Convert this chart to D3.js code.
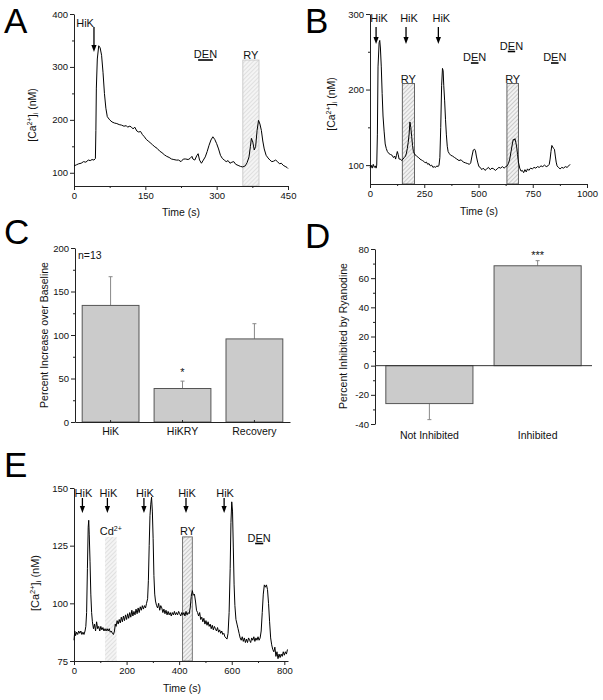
<!DOCTYPE html>
<html><head><meta charset="utf-8">
<script src="https://cdn.jsdelivr.net/npm/d3@7"></script>
<style>body{margin:0;background:#fff}</style>
</head><body><svg id="fig" width="603" height="700"></svg>
<script>
// ================= DATA =================
// Panel A trace
const traceA_t  = [0,5,10,15,20,25,30,34,38,42,45,46,47,49,52,55,58,61,64,67,70,75,80,85,90,95,100,105,110,113,116,120,124,128,132,136,140,144,148,152,156,160,165,170,175,180,185,190,195,200,205,210,215,220,225,230,235,240,244,248,250,254,258,261,264,268,272,276,280,284,288,292,296,300,304,308,312,316,320,324,328,332,336,340,345,350,355,360,364,368,371,373,376,379,382,385,388,391,394,397,400,404,408,412,416,420,424,428,432,436,440,444,448,450];
const traceA_ca = [113,115,117,118,121,120,124,123,125,124,127,180,260,315,340,336,322,290,250,222,206,200,196,194,193,191,190,188,189,186,188,187,183,186,179,177,178,172,168,163,160,157,153,149,146,141,138,134,131,129,126,125,124,124,121,126,126,125,127,131,126,124,132,136,124,118,124,130,140,152,162,168,163,155,145,133,127,124,121,123,118,120,121,116,114,112,111,113,119,130,150,165,158,143,150,180,199,192,180,160,145,133,128,124,121,122,124,121,117,118,114,112,110,108];
const hikA = [42];
const denA = [[261, 292]];
const ryA  = [[355, 389]];

// Panel B trace
const traceB_t  = [0,5,10,15,20,25,28,31,34,37,42,45,48,52,56,60,65,70,75,80,88,95,102,108,114,118,122,126,130,134,140,146,152,158,164,168,172,176,180,184,188,192,196,200,206,212,218,224,230,236,242,248,254,260,266,272,278,284,290,296,302,308,314,318,322,326,330,334,337,340,344,348,352,356,360,366,372,380,390,400,410,420,430,440,450,458,464,470,476,482,486,490,496,502,508,515,522,530,538,546,554,562,570,578,586,594,602,610,618,626,632,638,644,650,656,660,664,668,672,676,680,684,690,696,702,708,714,720,726,732,740,748,756,764,772,780,788,796,804,812,820,826,830,834,838,842,846,850,854,858,862,868,876,884,892,900,908,916,922];
const traceB_ca = [97,100,96,101,97,99,96,100,140,230,262,265,255,230,195,165,145,128,122,118,115,114,113,110,112,108,113,118,114,108,108,106,108,110,112,116,122,130,140,157,150,138,126,118,114,113,111,110,108,107,106,105,103,104,101,102,99,100,97,98,97,99,98,100,110,150,205,228,225,205,185,160,140,125,118,115,113,112,110,108,106,107,104,103,102,101,103,112,120,121,119,112,104,98,97,94,96,93,95,97,94,96,95,93,95,97,96,98,96,98,99,102,108,118,128,134,133,135,130,124,114,104,96,92,93,90,94,91,95,93,96,95,97,96,98,97,99,98,100,98,99,101,108,118,126,124,122,121,112,104,99,97,95,97,96,98,97,99,101];
const hikB = [28, 166, 315];
const denB = [[465, 500], [635, 669], [834, 869]];
const ryB  = [[149, 205], [631, 684]];

// Panel C bars
const barsC_cat  = ["HiK", "HiKRY", "Recovery"];
const barsC_mean = [134, 38.5, 95.5];
const barsC_sem  = [33, 8.5, 17.5];
const barsC_sig  = ["", "*", ""];

// Panel D bars
const barsD_cat  = ["Not Inhibited", "Inhibited"];
const barsD_mean = [-26, 68.5];
const barsD_sem  = [11, 3.5];
const barsD_sig  = ["", "***"];

// Panel E trace
const traceE_t  = [0,3,6,10,14,18,22,26,30,34,38,42,45,48,51,54,56,58,61,64,67,70,74,78,82,86,90,94,98,102,106,110,114,118,122,126,130,134,138,142,146,150,154,157,160,164,168,172,176,180,184,188,192,196,200,204,208,212,216,220,224,228,232,236,240,244,248,252,256,260,264,268,272,276,280,283,286,289,292,295,298,301,304,307,310,314,318,322,326,330,334,338,342,346,350,354,358,362,366,370,374,378,382,386,390,394,398,402,406,410,414,418,422,426,430,434,438,442,446,450,454,458,462,466,470,474,478,482,486,490,494,498,502,506,510,514,518,522,526,530,534,538,542,546,550,554,558,562,566,570,574,578,582,586,590,594,597,600,603,606,609,612,616,620,624,628,632,636,640,644,648,652,656,660,664,668,672,676,680,684,688,692,696,700,704,708,712,716,720,724,728,732,736,740,744,748,752,756,760,764,768,772,776,780,784,788,792,796,800,804,808,812];
const traceE_ca = [84,88,86,87.5,86.5,88,87,88,86.5,87.5,86.5,88,90,96,115,133,136,130,118,104,96,92,89,91,88,92,89,90,88,90,88.5,89.5,88,89,88,89,88,89,87.5,88,87,86.5,88,91,90,92.5,91,93,91.5,94,92,94.5,92.5,95,93,95.5,93.5,96,94,97,94.5,96.5,95,97.5,95.5,98,96,98.5,97,99,97.5,99,98,100,102,110,125,138,143,146,140,128,112,104,101,99,98,100,97,99,98,96,97.5,95.5,97,95,96.5,95,96,94.5,96,95,96.5,95,96,95,96.5,95.5,94.5,96,95,96,94.5,96.5,95,96,95.5,98,103,105.5,103.5,104,101,97,96,94.5,96,93,94,92,93.5,91,92.5,90.5,92,90,91,89,90.5,88.5,90,89,88,89.5,87.5,88.5,87,88,86.5,87,85.5,85,84.5,87,96,115,135,144,140,124,108,99,93,91,89,87,85,84,85.5,83.5,85,83,84.5,83,85,84,83,85,84,85.5,83.5,85,84,85.5,84,85,88,96,104,108,107,108,106,100,92,85,82,80,79,81,77,79,76,78,76.5,78,77,79,77.5,79,78,80];
const hikE = [32, 127, 266, 426, 571];
const denE = [[689, 720]];
const cdE  = [[118, 162]];
const ryE  = [[413, 450]];

// ================= DRAWING =================
const FONT = "'Liberation Sans', Arial, Helvetica, sans-serif";
const fmt = d => String(d);
const svg = d3.select("#fig").style("font-family", FONT);
svg.append("rect").attr("width", 603).attr("height", 700).attr("fill", "#fff");

const defs = svg.append("defs");
function hatch(id, bg, line, w) {
  const p = defs.append("pattern").attr("id", id).attr("patternUnits", "userSpaceOnUse")
    .attr("width", 3).attr("height", 3).attr("patternTransform", "rotate(45)");
  p.append("rect").attr("width", 3).attr("height", 3).attr("fill", bg);
  p.append("line").attr("x1", 0).attr("y1", 0).attr("x2", 0).attr("y2", 3)
    .attr("stroke", line).attr("stroke-width", w);
}
hatch("hatchLight", "#f4f4f4", "#c4c4c4", 0.8);
hatch("hatchDark", "#f2f2f2", "#9a9a9a", 0.9);

function styleAxis(g) {
  g.attr("font-family", FONT).attr("font-size", 9.5);
  g.selectAll("path,line").attr("stroke", "#222").attr("stroke-width", 1);
  g.selectAll("text").attr("fill", "#111");
}

function addAxes(x, y, xMajor, xMinor, yMajor, yMinor, yAt, xAt) {
  const ax = svg.append("g").attr("transform", `translate(0,${yAt})`)
    .call(d3.axisBottom(x).tickValues(xMajor).tickFormat(fmt).tickSize(4).tickSizeOuter(0).tickPadding(2));
  styleAxis(ax);
  if (xMinor.length) {
    const axm = svg.append("g").attr("transform", `translate(0,${yAt})`)
      .call(d3.axisBottom(x).tickValues(xMinor).tickSize(2).tickFormat(""));
    axm.select(".domain").remove(); styleAxis(axm);
  }
  const ay = svg.append("g").attr("transform", `translate(${xAt},0)`)
    .call(d3.axisLeft(y).tickValues(yMajor).tickFormat(fmt).tickSize(4).tickSizeOuter(0).tickPadding(2));
  styleAxis(ay);
  if (yMinor.length) {
    const aym = svg.append("g").attr("transform", `translate(${xAt},0)`)
      .call(d3.axisLeft(y).tickValues(yMinor).tickSize(2).tickFormat(""));
    aym.select(".domain").remove(); styleAxis(aym);
  }
}

function panelLetter(t, x, y) {
  svg.append("text").attr("x", x).attr("y", y).attr("font-size", 35).attr("fill", "#000").text(t);
}

function caLabel(cx, cy, size) {
  const t = svg.append("text").attr("transform", `translate(${cx},${cy}) rotate(-90)`)
    .attr("text-anchor", "middle").attr("font-size", size).attr("fill", "#111");
  t.append("tspan").text("[Ca");
  t.append("tspan").attr("dy", -4).attr("font-size", size * 0.68).text("2+");
  t.append("tspan").attr("dy", 4).text("]");
  t.append("tspan").attr("dy", 2).attr("font-size", size * 0.68).text("i");
  t.append("tspan").attr("dy", -2).text(" (nM)");
}

function xTitle(text, cx, y) {
  svg.append("text").attr("x", cx).attr("y", y).attr("text-anchor", "middle")
    .attr("font-size", 10.5).attr("fill", "#111").text(text);
}

function arrow(x, y1, y2) {
  svg.append("line").attr("x1", x).attr("x2", x).attr("y1", y1).attr("y2", y2 - 5)
    .attr("stroke", "#000").attr("stroke-width", 1.3);
  svg.append("path").attr("d", `M${x - 2.6},${y2 - 7} L${x + 2.6},${y2 - 7} L${x},${y2} Z`).attr("fill", "#000");
}

function annText(t, x, y, anchor) {
  return svg.append("text").attr("x", x).attr("y", y).attr("text-anchor", anchor || "middle")
    .attr("font-size", 11).attr("fill", "#111").text(t);
}

function denLabel(x, t0, t1, barY) {
  const cx = (x(t0) + x(t1)) / 2;
  annText("DEN", cx, barY - 2);
  svg.append("line").attr("x1", x(t0)).attr("x2", x(t1)).attr("y1", barY).attr("y2", barY)
    .attr("stroke", "#000").attr("stroke-width", 1.6);
}

function box(x, y, t0, t1, top, fill, stroke) {
  svg.append("rect").attr("x", x(t0)).attr("y", y(top)).attr("width", x(t1) - x(t0))
    .attr("height", y.range()[0] - y(top)).attr("fill", fill)
    .attr("stroke", stroke).attr("stroke-width", stroke === "none" ? 0 : 0.9);
}

function trace(x, y, ts, vs) {
  const pts = ts.map((t, i) => [t, vs[i]]);
  svg.append("path").datum(pts)
    .attr("d", d3.line().x(d => x(d[0])).y(d => y(d[1])))
    .attr("fill", "none").attr("stroke", "#000").attr("stroke-width", 1);
}

// ---------- Panel A ----------
{
  const x = d3.scaleLinear().domain([0, 450]).range([74, 288]);
  const y = d3.scaleLinear().domain([75, 400]).range([186, 14]);
  ryA.forEach(r => box(x, y, r[0], r[1], 313, "url(#hatchLight)", "#c8c8c8"));
  addAxes(x, y, [0, 150, 300, 450], [75, 225, 375], [100, 200, 300, 400], [150, 250, 350], 186, 74);
  trace(x, y, traceA_t, traceA_ca);
  hikA.forEach(t => { annText("HiK", x(t), 27, "end"); arrow(x(t), 27, 52); });
  denA.forEach(d => denLabel(x, d[0], d[1], 60));
  ryA.forEach(r => annText("RY", (x(r[0]) + x(r[1])) / 2, y(313) - 1.5));
  panelLetter("A", 4, 33);
  caLabel(36, 115, 10.5);
  xTitle("Time (s)", 181, 216);
}

// ---------- Panel B ----------
{
  const x = d3.scaleLinear().domain([0, 1000]).range([370, 587]);
  const y = d3.scaleLinear().domain([75, 300]).range([184, 14]);
  ryB.forEach(r => box(x, y, r[0], r[1], 208, "url(#hatchDark)", "#555"));
  addAxes(x, y, [0, 250, 500, 750, 1000], [125, 375, 625, 875], [100, 200, 300], [150, 250], 184, 370);
  trace(x, y, traceB_t, traceB_ca);
  hikB.forEach(t => { annText("HiK", x(t) + 3, 22); arrow(x(t), 27, 44); });
  const denBarY = [63, 51.5, 63];
  denB.forEach((d, i) => denLabel(x, d[0], d[1], denBarY[i]));
  ryB.forEach(r => annText("RY", (x(r[0]) + x(r[1])) / 2, y(208) - 0.5));
  panelLetter("B", 305, 33);
  caLabel(335, 104, 10.5);
  xTitle("Time (s)", 479, 215);
}

// ---------- Panel C ----------
{
  const x = d3.scaleBand().domain(barsC_cat).range([75, 290]).paddingInner(0.21).paddingOuter(0.1);
  const y = d3.scaleLinear().domain([0, 200]).range([422, 248]);
  barsC_cat.forEach((c, i) => {
    const cx = x(c) + x.bandwidth() / 2, top = barsC_mean[i] + barsC_sem[i];
    svg.append("line").attr("x1", cx).attr("x2", cx).attr("y1", y(barsC_mean[i])).attr("y2", y(top))
      .attr("stroke", "#888").attr("stroke-width", 1);
    svg.append("line").attr("x1", cx - 2).attr("x2", cx + 2).attr("y1", y(top)).attr("y2", y(top))
      .attr("stroke", "#888").attr("stroke-width", 1);
    if (barsC_sig[i]) annText(barsC_sig[i], cx, y(top) - 5);
  });
  svg.selectAll(".barC").data(barsC_cat).join("rect")
    .attr("x", d => x(d)).attr("width", x.bandwidth())
    .attr("y", (d, i) => y(barsC_mean[i])).attr("height", (d, i) => y(0) - y(barsC_mean[i]))
    .attr("fill", "#cbcbcb").attr("stroke", "#555").attr("stroke-width", 1);
  const ay = svg.append("g").attr("transform", "translate(75,0)")
    .call(d3.axisLeft(y).tickValues([0, 50, 100, 150, 200]).tickFormat(fmt).tickSize(4).tickSizeOuter(0).tickPadding(2));
  styleAxis(ay);
  const aym = svg.append("g").attr("transform", "translate(75,0)")
    .call(d3.axisLeft(y).tickValues([25, 75, 125, 175]).tickSize(2).tickFormat(""));
  aym.select(".domain").remove(); styleAxis(aym);
  const ax = svg.append("g").attr("transform", `translate(0,${y(0)})`)
    .call(d3.axisBottom(x).tickSize(-2).tickSizeOuter(0).tickPadding(6));
  styleAxis(ax);
  ax.selectAll("text").attr("font-size", 10.5);
  annText("n=13", 78, 259, "start").attr("font-size", 10.5);
  panelLetter("C", 4, 244);
  svg.append("text").attr("transform", "translate(48,335) rotate(-90)").attr("text-anchor", "middle")
    .attr("font-size", 10.5).attr("fill", "#111").text("Percent Increase over Baseline");
}

// ---------- Panel D ----------
{
  const x = d3.scaleBand().domain(barsD_cat).range([375, 592]).paddingInner(0.195).paddingOuter(0.1);
  const y = d3.scaleLinear().domain([-40, 80]).range([424, 249]);
  barsD_cat.forEach((c, i) => {
    const cx = x(c) + x.bandwidth() / 2;
    const sign = barsD_mean[i] >= 0 ? 1 : -1;
    const end = barsD_mean[i] + sign * barsD_sem[i];
    svg.append("line").attr("x1", cx).attr("x2", cx).attr("y1", y(barsD_mean[i])).attr("y2", y(end))
      .attr("stroke", "#888").attr("stroke-width", 1);
    svg.append("line").attr("x1", cx - 2).attr("x2", cx + 2).attr("y1", y(end)).attr("y2", y(end))
      .attr("stroke", "#888").attr("stroke-width", 1);
    if (barsD_sig[i]) annText(barsD_sig[i], cx, y(end) - 2);
  });
  svg.selectAll(".barD").data(barsD_cat).join("rect")
    .attr("x", d => x(d)).attr("width", x.bandwidth())
    .attr("y", (d, i) => y(Math.max(0, barsD_mean[i])))
    .attr("height", (d, i) => Math.abs(y(0) - y(barsD_mean[i])))
    .attr("fill", "#cbcbcb").attr("stroke", "#555").attr("stroke-width", 1);
  const ay = svg.append("g").attr("transform", "translate(375,0)")
    .call(d3.axisLeft(y).tickValues([-40, -20, 0, 20, 40, 60, 80]).tickFormat(fmt).tickSize(4).tickSizeOuter(0).tickPadding(2));
  styleAxis(ay);
  const aym = svg.append("g").attr("transform", "translate(375,0)")
    .call(d3.axisLeft(y).tickValues([-30, -10, 10, 30, 50, 70]).tickSize(2).tickFormat(""));
  aym.select(".domain").remove(); styleAxis(aym);
  svg.append("line").attr("x1", 375).attr("x2", 592).attr("y1", y(0)).attr("y2", y(0))
    .attr("stroke", "#333").attr("stroke-width", 1);
  const axl = svg.append("g").attr("transform", `translate(0,${y(-40)})`)
    .call(d3.axisBottom(x).tickSize(0).tickPadding(8));
  axl.select(".domain").remove(); styleAxis(axl);
  axl.selectAll("text").attr("font-size", 10.5);
  panelLetter("D", 305, 248);
  svg.append("text").attr("transform", "translate(347,336) rotate(-90)").attr("text-anchor", "middle")
    .attr("font-size", 10.5).attr("fill", "#111").text("Percent Inhibited by Ryanodine");
}

// ---------- Panel E ----------
{
  const x = d3.scaleLinear().domain([0, 814]).range([74, 288]);
  const y = d3.scaleLinear().domain([75, 150]).range([661, 488]);
  cdE.forEach(r => box(x, y, r[0], r[1], 128.8, "url(#hatchLight)", "none"));
  ryE.forEach(r => box(x, y, r[0], r[1], 128.8, "url(#hatchDark)", "#666"));
  addAxes(x, y, [0, 200, 400, 600, 800], [100, 300, 500, 700], [75, 100, 125, 150], [], 661, 74);
  trace(x, y, traceE_t, traceE_ca);
  hikE.forEach(t => { annText("HiK", x(t) + 1, 497); arrow(x(t), 498, 513); });
  denE.forEach(d => denLabel(x, d[0], d[1], 543.5));
  ryE.forEach(r => annText("RY", (x(r[0]) + x(r[1])) / 2, y(128.8) - 1.5));
  cdE.forEach(r => {
    const t = annText("", (x(r[0]) + x(r[1])) / 2, y(128.8) - 2);
    t.append("tspan").text("Cd");
    t.append("tspan").attr("dy", -4).attr("font-size", 7).text("2+");
  });
  panelLetter("E", 4, 477);
  caLabel(39, 583, 11);
  xTitle("Time (s)", 182, 692);
}
</script></body></html>
